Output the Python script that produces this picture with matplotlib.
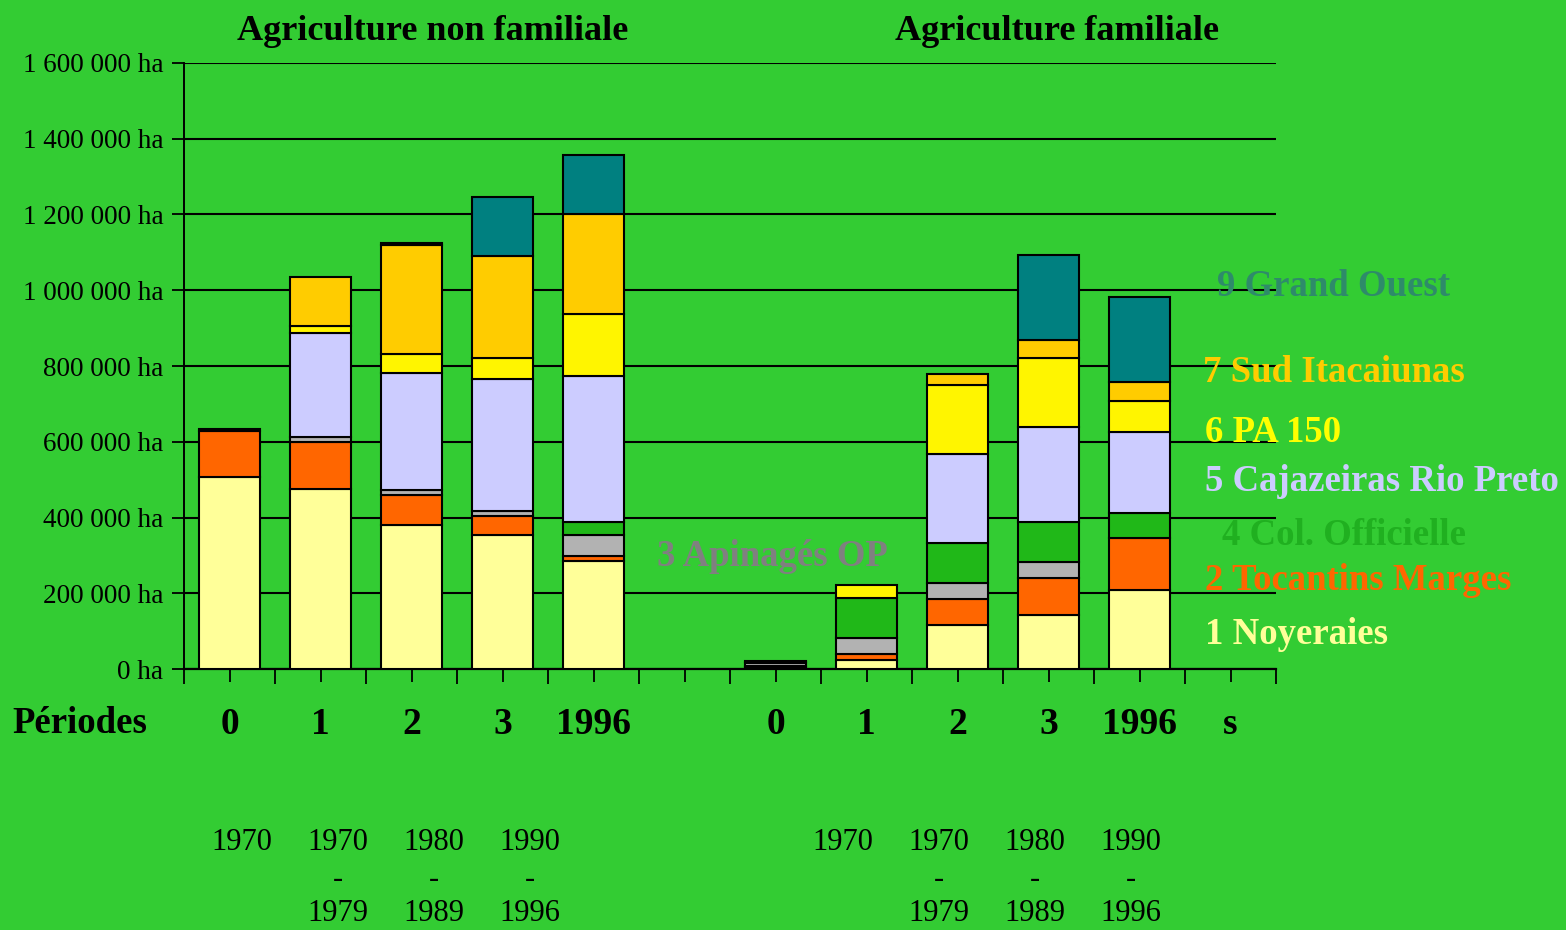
import matplotlib
matplotlib.use("Agg")
import matplotlib.pyplot as plt
import numpy as np

# Categories (12 slots: 5 non-familial, gap, 5 familial, "s")
cat_labels = ["0", "1", "2", "3", "1996", "", "0", "1", "2", "3", "1996", "s"]

# Surfaces (ha) per series and slot
noyeraies   = [507000, 476000, 379000, 354000, 285000, 0, 6000, 23000, 117000, 142000, 209000, 0]
tocantins   = [122000, 123000,  81000,  50000,  14000, 0, 2000, 17000,  68000,  97000, 136000, 0]
apinages    = [  4000,  13000,  13000,  14000,  54000, 0, 8000, 43000,  42000,  43000,      0, 0]
col_off     = [     0,      0,      0,      0,  34000, 0, 2000, 104000, 105000, 105000, 68000, 0]
cajazeiras  = [     0, 274000, 308000, 347000, 386000, 0, 2000,      0, 236000, 253000, 214000, 0]
pa150       = [     0,  19000,  51000,  55000, 165000, 0,    0,  35000, 182000, 181000,  81000, 0]
sud_itac    = [     0, 130000, 287000, 270000, 263000, 0,    0,      0,  30000,  48000,  50000, 0]
grand_ouest = [     0,      0,   6000, 157000, 157000, 0,    0,      0,      0, 224000, 225000, 0]

series = [
    ("1 Noyeraies", noyeraies, "#FFFF99"),
    ("2 Tocantins Marges", tocantins, "#FF6600"),
    ("3 Apinagés OP", apinages, "#B2B2B2"),
    ("4 Col. Officielle", col_off, "#20B818"),
    ("5 Cajazeiras Rio Preto", cajazeiras, "#CCCCFF"),
    ("6 PA 150", pa150, "#FFF500"),
    ("7 Sud Itacaiunas", sud_itac, "#FFCC00"),
    ("9 Grand Ouest", grand_ouest, "#008080"),
]

yticks = [0, 200000, 400000, 600000, 800000, 1000000, 1200000, 1400000, 1600000]
ytick_labels = ["0 ha", "200 000 ha", "400 000 ha", "600 000 ha", "800 000 ha",
                "1 000 000 ha", "1 200 000 ha", "1 400 000 ha", "1 600 000 ha"]

year_top = ["1970", "1970", "1980", "1990"]
year_bot = ["", "1979", "1989", "1996"]

BG = "#33CC33"
SERIF = ["Liberation Serif", "DejaVu Serif"]
plt.rcParams["font.family"] = SERIF

W, H = 1566, 930
fig = plt.figure(figsize=(W / 100, H / 100), dpi=100, facecolor=BG)
ax = fig.add_axes([184 / W, 1 - 669 / H, (1276 - 184) / W, (669 - 63) / H])
ax.set_facecolor(BG)

x = np.arange(len(cat_labels))
bottom = np.zeros(len(cat_labels))
for name, vals, col in series:
    v = np.array(vals, dtype=float)
    mask = v > 0
    ax.bar(x[mask], v[mask], bottom=bottom[mask], width=0.67, color=col,
           edgecolor="black", linewidth=1.5, zorder=3)
    bottom += v

ax.set_xlim(-0.5, len(cat_labels) - 0.5)
ax.set_ylim(0, 1600000)
ax.set_yticks(yticks)
ax.set_yticklabels(ytick_labels, fontsize=19.5)
ax.yaxis.grid(True, color="black", linewidth=1.5, zorder=0)
ax.set_axisbelow(True)

ax.set_xticks(x)
ax.set_xticklabels(cat_labels, fontsize=27, fontweight="bold")
ax.set_xticks(np.arange(-0.5, len(cat_labels) + 0.5, 1), minor=True)
ax.tick_params(axis="x", which="major", length=9, width=1.3, pad=18, colors="black")
ax.tick_params(axis="x", which="minor", length=11, width=1.3)
ax.tick_params(axis="y", length=9, width=1.3, pad=6)

for s in ["top", "right"]:
    ax.spines[s].set_visible(False)
ax.spines["left"].set_linewidth(1.4)
ax.spines["bottom"].set_linewidth(1.6)

# Titles
fig.text(433 / W, 1 - 31 / H, "Agriculture non familiale", ha="center", va="center",
         fontsize=26, fontweight="bold")
fig.text(1057 / W, 1 - 31 / H, "Agriculture familiale", ha="center", va="center",
         fontsize=26, fontweight="bold")

fig.text(80 / W, 1 - 723 / H, "Périodes", ha="center", va="center", fontsize=26.5, fontweight="bold")

# Year ranges under categories
for xs in ([242, 338, 434, 530], [843, 939, 1035, 1131]):
    for i, xp in enumerate(xs):
        fig.text(xp / W, 1 - 842 / H, year_top[i], ha="center", va="center", fontsize=22)
        if year_bot[i]:
            fig.text(xp / W, 1 - 879 / H, "-", ha="center", va="center", fontsize=22)
            fig.text(xp / W, 1 - 913 / H, year_bot[i], ha="center", va="center", fontsize=22)

# Series labels
labels = [
    ("9 Grand Ouest", 1217, 286, "#2E8B6A"),
    ("7 Sud Itacaiunas", 1203, 372, "#FFCC00"),
    ("6 PA 150", 1205, 432, "#FFFF00"),
    ("5 Cajazeiras Rio Preto", 1205, 481, "#CCCCFF"),
    ("4 Col. Officielle", 1222, 535, "#20B020"),
    ("2 Tocantins Marges", 1205, 580, "#FF6600"),
    ("1 Noyeraies", 1205, 635, "#FFFF99"),
    ("3 Apinagés OP", 657, 557, "#808080"),
]
for t, xp, yp, c in labels:
    fig.text(xp / W, 1 - yp / H, t, ha="left", va="center", fontsize=26.5,
             fontweight="bold", color=c)

fig.savefig("out.png", dpi=100, facecolor=BG)
